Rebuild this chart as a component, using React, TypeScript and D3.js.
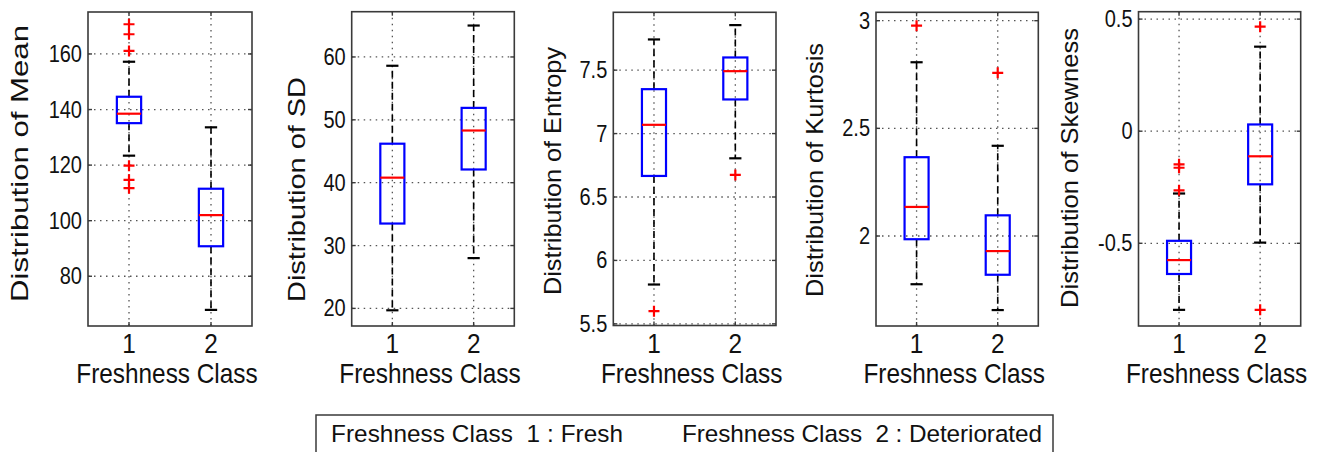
import React from "react";
import * as d3 from "d3";

// ---------- DATA (box stats: [lower whisker, Q1, median, Q3, upper whisker]) ----------
const classes = [1, 2];
const classTickLabels = ["1", "2"];

const meanClass1 = [123.4, 135.1, 138.5, 144.6, 157.2];
const meanClass2 = [67.9, 90.8, 102.0, 111.5, 133.6];
const meanOutliers1 = [170.7, 167.1, 161.1, 119.8, 114.7, 111.7];
const meanOutliers2: number[] = [];
const meanTicks = [80, 100, 120, 140, 160];
const meanDomain = [62.1, 175.1];

const sdClass1 = [19.7, 33.5, 40.8, 46.2, 58.6];
const sdClass2 = [28.0, 42.1, 48.3, 51.9, 65.0];
const sdOutliers1: number[] = [];
const sdOutliers2: number[] = [];
const sdTicks = [20, 30, 40, 50, 60];
const sdDomain = [17.2, 67.2];

const entropyClass1 = [5.81, 6.666, 7.069, 7.35, 7.742];
const entropyClass2 = [6.805, 7.269, 7.492, 7.6, 7.855];
const entropyOutliers1 = [5.6];
const entropyOutliers2 = [6.674];
const entropyTicks = [5.5, 6, 6.5, 7, 7.5];
const entropyDomain = [5.487, 7.956];

const kurtosisClass1 = [1.776, 1.985, 2.135, 2.366, 2.807];
const kurtosisClass2 = [1.656, 1.82, 1.93, 2.096, 2.419];
const kurtosisOutliers1 = [2.977];
const kurtosisOutliers2 = [2.758];
const kurtosisTicks = [2, 2.5, 3];
const kurtosisDomain = [1.582, 3.039];

const skewnessClass1 = [-0.797, -0.637, -0.575, -0.489, -0.278];
const skewnessClass2 = [-0.497, -0.237, -0.112, 0.03, 0.377];
const skewnessOutliers1 = [-0.148, -0.163, -0.264];
const skewnessOutliers2 = [0.466, -0.797];
const skewnessTicks = [-0.5, 0, 0.5];
const skewnessDomain = [-0.869, 0.533];

const yLabels = [
  "Distribution of Mean",
  "Distribution of SD",
  "Distribution of Entropy",
  "Distribution of Kurtosis",
  "Distribution of Skewness",
];
const xLabel = "Freshness Class";
const legendEntries = ["Freshness Class  1 : Fresh", "Freshness Class  2 : Deteriorated"];

// ---------- LAYOUT ----------
const layout = [
  { left: 88, right: 252, top: 12, bottom: 326, lx: 20, ly: 163.5, llen: 277 },
  { left: 351.7, right: 514.3, top: 11.7, bottom: 326, lx: 297, ly: 189.5, llen: 225 },
  { left: 613.3, right: 776, top: 12.3, bottom: 325.5, lx: 553, ly: 171, llen: 248 },
  { left: 876, right: 1038.3, top: 12.3, bottom: 326, lx: 815, ly: 170, llen: 254 },
  { left: 1138.5, right: 1300.7, top: 11.7, bottom: 326, lx: 1070, ly: 168, llen: 280 },
];

const panels = [
  { stats: [meanClass1, meanClass2], outliers: [meanOutliers1, meanOutliers2], ticks: meanTicks, domain: meanDomain },
  { stats: [sdClass1, sdClass2], outliers: [sdOutliers1, sdOutliers2], ticks: sdTicks, domain: sdDomain },
  { stats: [entropyClass1, entropyClass2], outliers: [entropyOutliers1, entropyOutliers2], ticks: entropyTicks, domain: entropyDomain },
  { stats: [kurtosisClass1, kurtosisClass2], outliers: [kurtosisOutliers1, kurtosisOutliers2], ticks: kurtosisTicks, domain: kurtosisDomain },
  { stats: [skewnessClass1, skewnessClass2], outliers: [skewnessOutliers1, skewnessOutliers2], ticks: skewnessTicks, domain: skewnessDomain },
];

const FONT = "'Liberation Sans', Arial, Helvetica, sans-serif";
const SX = 0.87;
const FRAME = "#3a3a3a";
const GRID = "#555";

function Panel({ p, L, label }: any) {
  const x = d3.scaleLinear().domain([0.5, 2.5]).range([L.left, L.right]);
  const y = d3.scaleLinear().domain(p.domain).range([L.bottom, L.top]);
  const boxHalf = 0.148;
  const capHalf = 0.075;
  const fmt = (v: number) => String(v);
  return (
    <g>
      {/* grid */}
      {p.ticks.map((t: number) => (
        <line key={"gy" + t} x1={L.left} x2={L.right} y1={y(t)} y2={y(t)} stroke={GRID}
          strokeWidth={1.3} strokeDasharray="1.5,4.5" />
      ))}
      {classes.map((c) => (
        <line key={"gx" + c} x1={x(c)} x2={x(c)} y1={L.top} y2={L.bottom} stroke={GRID}
          strokeWidth={1.3} strokeDasharray="1.5,4.5" />
      ))}
      {/* boxes */}
      {classes.map((c, i) => {
        const s = p.stats[i];
        const cx = x(c);
        return (
          <g key={"b" + c}>
            <line x1={cx} x2={cx} y1={y(s[3])} y2={y(s[4])} stroke="#000" strokeWidth={1.6} strokeDasharray="7,4" />
            <line x1={cx} x2={cx} y1={y(s[1])} y2={y(s[0])} stroke="#000" strokeWidth={1.6} strokeDasharray="7,4" />
            <line x1={x(c - capHalf)} x2={x(c + capHalf)} y1={y(s[4])} y2={y(s[4])} stroke="#000" strokeWidth={2.2} />
            <line x1={x(c - capHalf)} x2={x(c + capHalf)} y1={y(s[0])} y2={y(s[0])} stroke="#000" strokeWidth={2.2} />
            <rect x={x(c - boxHalf)} y={y(s[3])} width={x(c + boxHalf) - x(c - boxHalf)} height={y(s[1]) - y(s[3])}
              fill="none" stroke="#0000ff" strokeWidth={2.2} />
            <line x1={x(c - boxHalf)} x2={x(c + boxHalf)} y1={y(s[2])} y2={y(s[2])} stroke="#ff0000" strokeWidth={2.2} />
            {p.outliers[i].map((o: number, k: number) => (
              <path key={k} d={`M${cx - 5.5},${y(o)}H${cx + 5.5}M${cx},${y(o) - 5.5}V${y(o) + 5.5}`}
                stroke="#ff0000" strokeWidth={2.2} />
            ))}
          </g>
        );
      })}
      {/* frame */}
      <rect x={L.left} y={L.top} width={L.right - L.left} height={L.bottom - L.top} fill="none" stroke={FRAME} strokeWidth={1.6} />
      {/* tick marks */}
      {p.ticks.map((t: number) => (
        <g key={"tm" + t}>
          <line x1={L.left} x2={L.left + 4} y1={y(t)} y2={y(t)} stroke={FRAME} strokeWidth={1.4} />
          <line x1={L.right - 4} x2={L.right} y1={y(t)} y2={y(t)} stroke={FRAME} strokeWidth={1.4} />
        </g>
      ))}
      {classes.map((c) => (
        <g key={"tx" + c}>
          <line x1={x(c)} x2={x(c)} y1={L.bottom} y2={L.bottom - 4} stroke={FRAME} strokeWidth={1.4} />
          <line x1={x(c)} x2={x(c)} y1={L.top} y2={L.top + 4} stroke={FRAME} strokeWidth={1.4} />
        </g>
      ))}
      {/* y tick labels */}
      {p.ticks.map((t: number) => (
        <text key={"yl" + t} transform={`translate(${L.left - 6},${y(t)}) scale(${SX},1)`} textAnchor="end"
          dominantBaseline="central" fontSize={23} fontFamily={FONT} fill="#111">
          {fmt(t)}
        </text>
      ))}
      {/* x tick labels */}
      {classes.map((c, i) => (
        <text key={"xl" + c} transform={`translate(${x(c)},353) scale(${SX},1)`} textAnchor="middle"
          fontSize={28} fontFamily={FONT} fill="#111">
          {classTickLabels[i]}
        </text>
      ))}
      {/* x label */}
      <text transform={`translate(${(L.left + L.right) / 2 - 3},383) scale(${SX},1)`} textAnchor="middle"
        fontSize={28} fontFamily={FONT} fill="#111">
        {xLabel}
      </text>
      {/* y label */}
      <text transform={`translate(${L.lx},${L.ly}) scale(${SX},1) rotate(-90)`} textAnchor="middle"
        dominantBaseline="central" fontSize={28} fontFamily={FONT} fill="#111"
        textLength={L.llen} lengthAdjust="spacingAndGlyphs">
        {label}
      </text>
    </g>
  );
}

export default function App() {
  return (
    <svg width={1324} height={452} style={{ position: "absolute", left: 0, top: 0, background: "#fff" }}>
      <rect x={0} y={0} width={1324} height={452} fill="#fff" />
      {panels.map((p, i) => (
        <Panel key={i} p={p} L={layout[i]} label={yLabels[i]} />
      ))}
      {/* legend */}
      <rect x={316} y={415} width={737} height={50} fill="#fff" stroke={FRAME} strokeWidth={1.5} />
      <text x={331} y={441.7} fontSize={24.3} fontFamily={FONT} fill="#111" textLength={292} lengthAdjust="spacing"
        style={{ whiteSpace: "pre" }}>
        {legendEntries[0]}
      </text>
      <text x={682} y={441.7} fontSize={24.3} fontFamily={FONT} fill="#111" textLength={360} lengthAdjust="spacing"
        style={{ whiteSpace: "pre" }}>
        {legendEntries[1]}
      </text>
    </svg>
  );
}
